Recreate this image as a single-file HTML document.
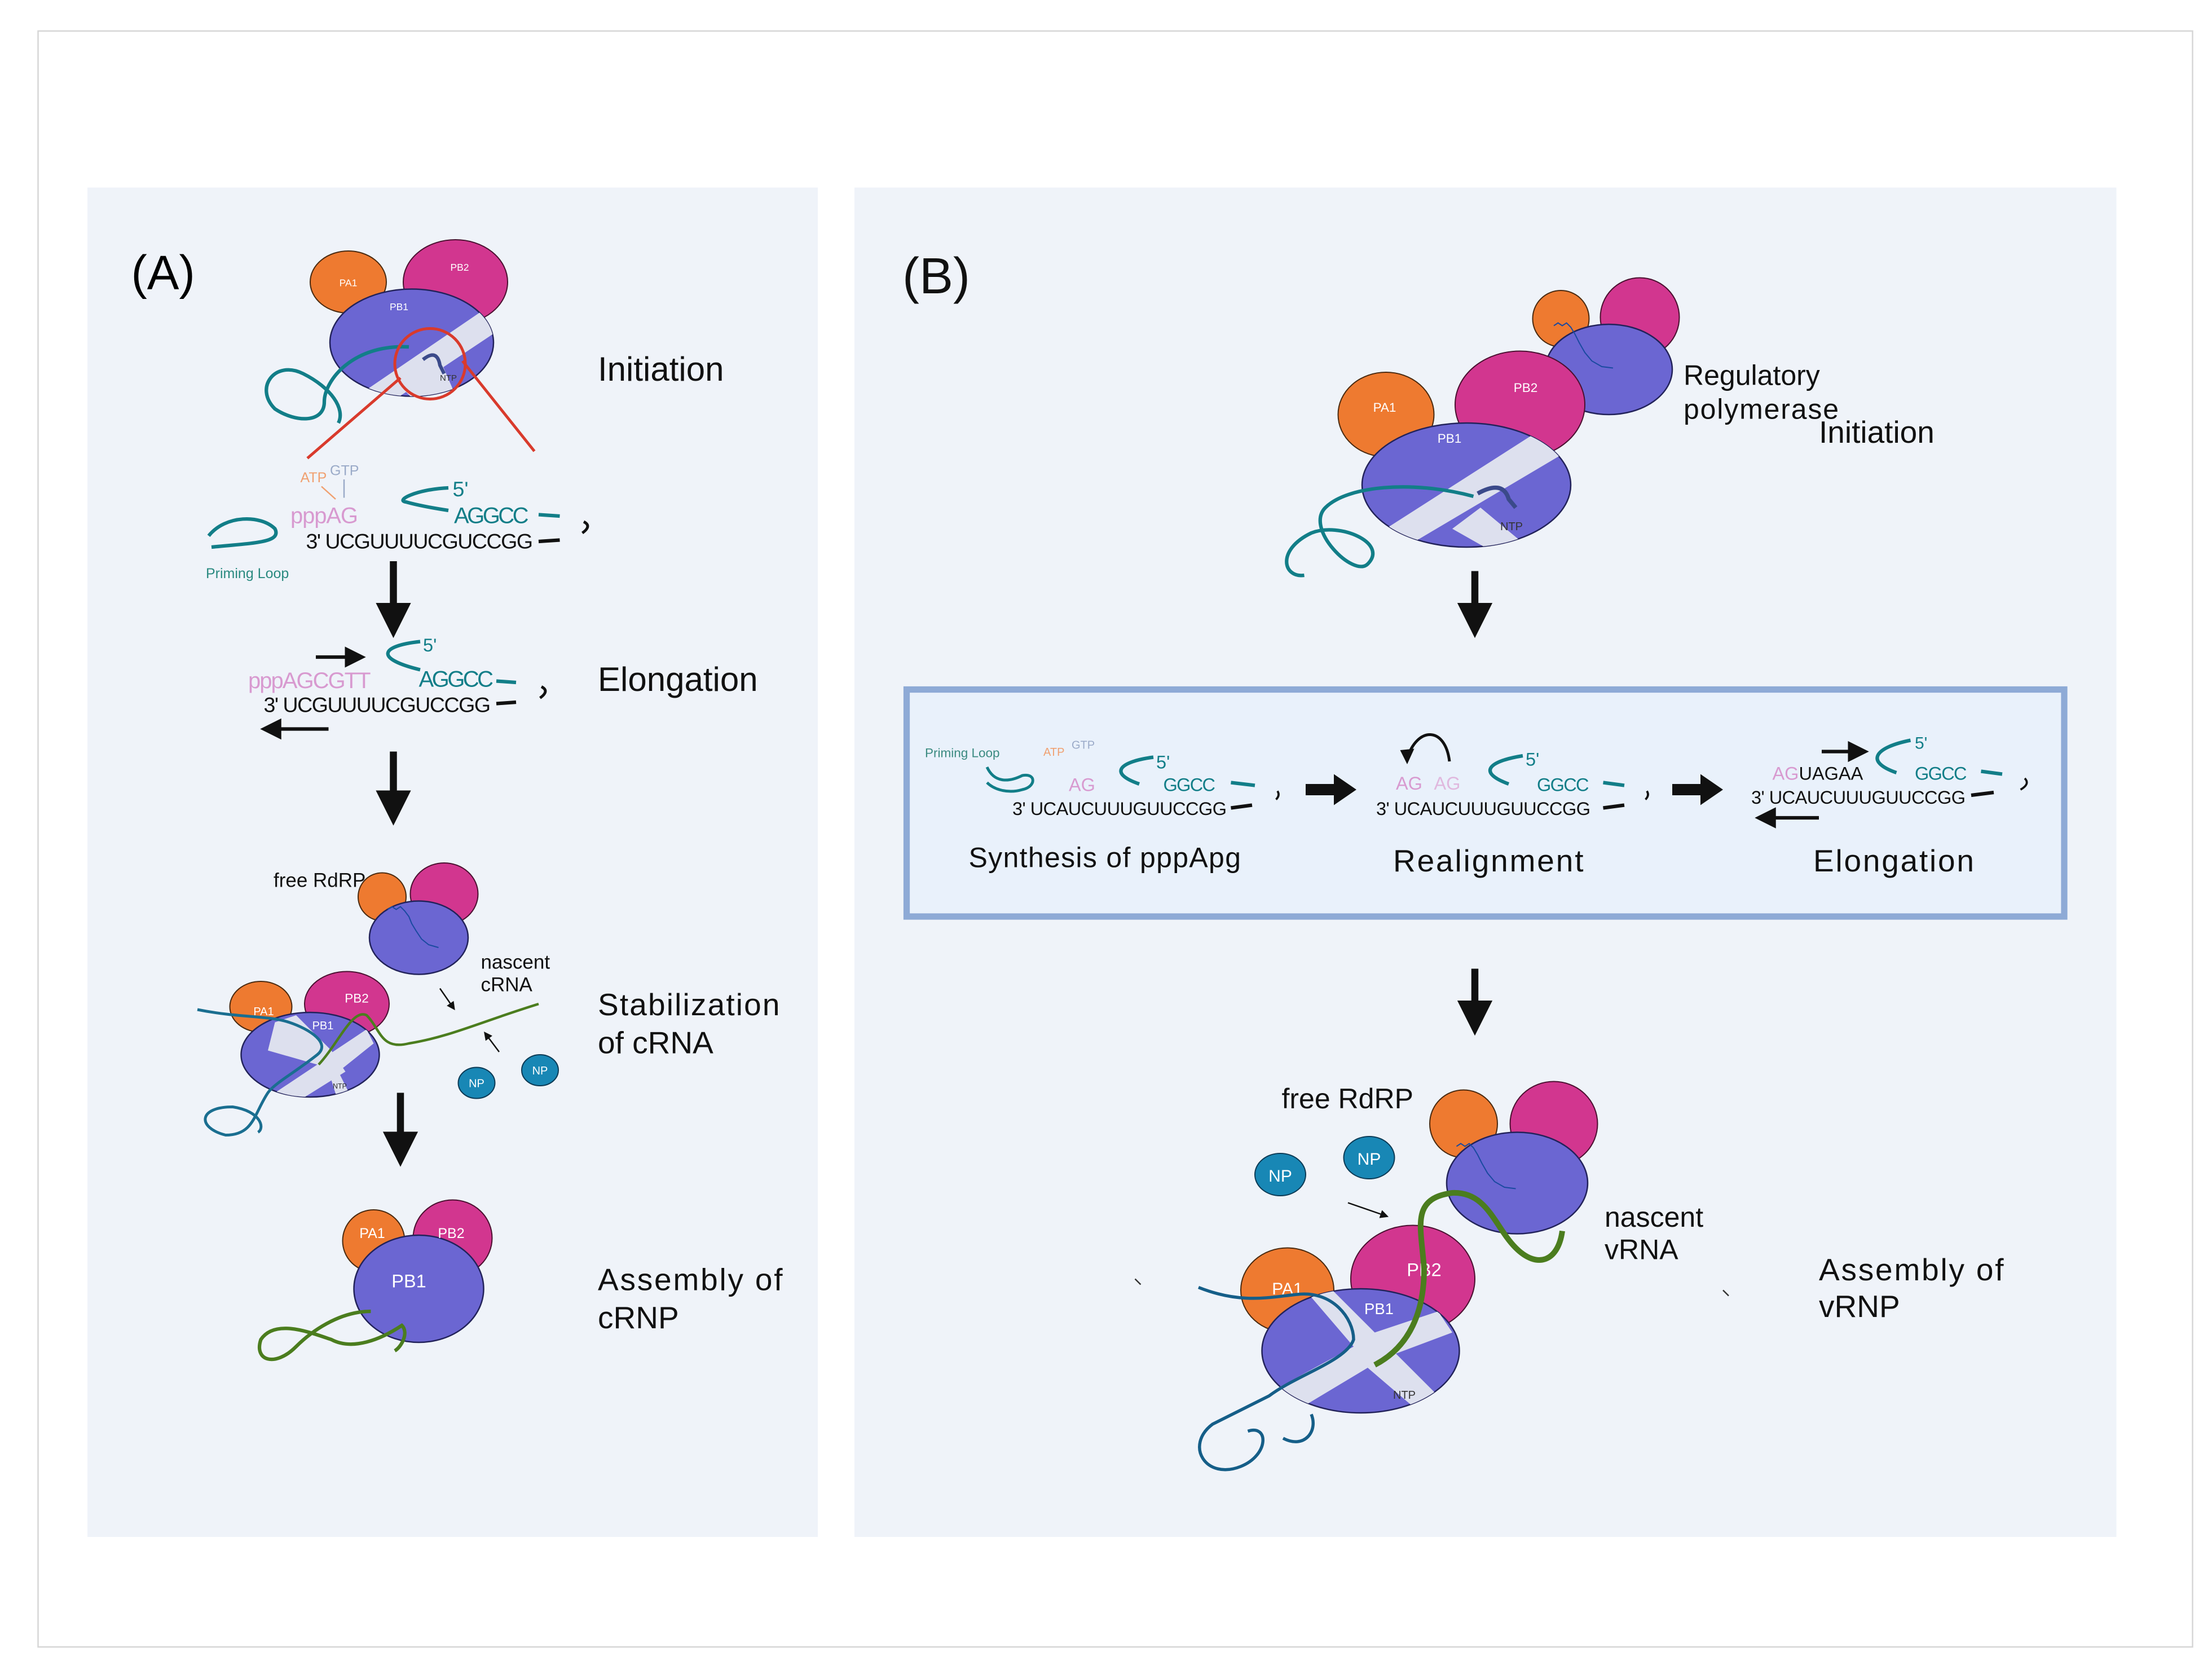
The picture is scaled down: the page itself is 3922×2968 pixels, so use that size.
<!DOCTYPE html>
<html><head><meta charset="utf-8"><style>
html,body{margin:0;padding:0;background:#fff;width:3922px;height:2968px;overflow:hidden}
svg{display:block}
text{font-family:"Liberation Sans",sans-serif}
</style></head><body>
<svg width="3922" height="2968" viewBox="0 0 3922 2968" xmlns="http://www.w3.org/2000/svg">
<defs>
<marker id="ah" viewBox="0 0 10 10" refX="5" refY="5" markerWidth="5" markerHeight="5" orient="auto"><path d="M0,0L10,5L0,10z" fill="#111"/></marker>
<marker id="ahs" viewBox="0 0 10 10" refX="5" refY="5" markerWidth="6" markerHeight="6" orient="auto"><path d="M0,0L10,5L0,10z" fill="#111"/></marker>
<clipPath id="c1"><ellipse cx="292" cy="243" rx="58" ry="38"/></clipPath>
<clipPath id="c2"><ellipse cx="1040" cy="344" rx="74" ry="44"/></clipPath>
<clipPath id="c3"><ellipse cx="220" cy="748" rx="49" ry="30"/></clipPath>
<clipPath id="c4"><ellipse cx="965" cy="958" rx="70" ry="44"/></clipPath>
</defs>
<g transform="scale(2.5)">
<rect x="0" y="0" width="1570" height="1188" fill="#fff"/>
<rect x="27" y="22" width="1528" height="1146" fill="#fff" stroke="#d6d6d6" stroke-width="1"/>
<rect x="62" y="133" width="518" height="957" fill="#eff3f9"/>
<rect x="606" y="133" width="895" height="957" fill="#eff3f9"/>

<!-- Panel A -->
<text x="93" y="205" font-size="34">(A)</text>
<ellipse cx="247" cy="200" rx="27" ry="22" fill="#ee7a30" stroke="#4a2a10" stroke-width="0.8"/>
<ellipse cx="323" cy="200" rx="37" ry="30" fill="#d2368f" stroke="#4a1030" stroke-width="0.8"/>
<ellipse cx="292" cy="243" rx="58" ry="38" fill="#6b66d2" stroke="#22225a" stroke-width="1"/>
<g clip-path="url(#c1)"><path d="M240,290 L350,215 L360,230 L255,300z" fill="#dde0ee"/><path d="M280,270 L310,250 L325,285 L300,290z" fill="#dde0ee"/></g>
<text x="247" y="203" font-size="7" fill="#fff" text-anchor="middle">PA1</text>
<text x="326" y="192" font-size="7" fill="#fff" text-anchor="middle">PB2</text>
<text x="283" y="220" font-size="7" fill="#fff" text-anchor="middle">PB1</text>
<text x="312" y="270" font-size="6" fill="#333">NTP</text>
<path d="M300,255 q10,-8 12,4 l3,6" fill="none" stroke="#3b4a8a" stroke-width="2.5"/>
<path d="M290,246 C250,244 230,270 230,285 C230,300 210,300 195,290 C180,275 195,255 215,265 C235,275 245,290 240,300" fill="none" stroke="#127e88" stroke-width="2.5"/>
<circle cx="305" cy="258" r="25" fill="none" stroke="#d93a2c" stroke-width="2"/>
<line x1="284" y1="268" x2="218" y2="325" stroke="#d93a2c" stroke-width="2"/>
<line x1="328" y1="256" x2="379" y2="320" stroke="#d93a2c" stroke-width="2"/>
<text x="213" y="342" font-size="10" fill="#f0a070">ATP</text>
<text x="234" y="337" font-size="10" fill="#9aaac8">GTP</text>
<line x1="228" y1="345" x2="238" y2="354" stroke="#f0a070" stroke-width="1"/>
<line x1="244" y1="340" x2="244" y2="353" stroke="#9aaac8" stroke-width="1"/>
<text x="206" y="371" font-size="16" fill="#d89ad0" textLength="48">pppAG</text>
<path d="M318,346 C295,347 280,355 288,356 C295,358 305,360 318,362" fill="none" stroke="#127e88" stroke-width="2.5"/>
<text x="321" y="352" font-size="15" fill="#127e88">5'</text>
<text x="322" y="371" font-size="16" fill="#127e88" textLength="53">AGGCC</text>
<line x1="382" y1="365" x2="397" y2="366" stroke="#127e88" stroke-width="2.5"/>
<text x="217" y="389" font-size="15" fill="#111" textLength="161">3' UCGUUUUCGUCCGG</text>
<line x1="382" y1="384" x2="397" y2="383" stroke="#111" stroke-width="2.5"/>
<path d="M414,370 q6,3 -1,8" fill="none" stroke="#111" stroke-width="2"/>
<path d="M148,380 C160,365 185,365 195,375 C200,385 180,385 150,388" fill="none" stroke="#127e88" stroke-width="2.5"/>
<text x="146" y="410" font-size="10" fill="#2a8a80">Priming Loop</text>
<line x1="279" y1="398" x2="279" y2="440" stroke="#111" stroke-width="5" marker-end="url(#ah)"/>
<text x="176" y="488" font-size="16" fill="#d89ad0" textLength="87">pppAGCGTT</text>
<line x1="224" y1="466" x2="252" y2="466" stroke="#111" stroke-width="2.5" marker-end="url(#ahs)"/>
<path d="M298,455 C270,458 265,467 298,475" fill="none" stroke="#127e88" stroke-width="2.5"/>
<text x="300" y="462" font-size="13" fill="#127e88">5'</text>
<text x="297" y="487" font-size="16" fill="#127e88" textLength="53">AGGCC</text>
<line x1="352" y1="483" x2="366" y2="484" stroke="#127e88" stroke-width="2.5"/>
<text x="187" y="505" font-size="15" fill="#111" textLength="161">3' UCGUUUUCGUCCGG</text>
<line x1="352" y1="499" x2="366" y2="498" stroke="#111" stroke-width="2.5"/>
<path d="M384,487 q6,3 -1,8" fill="none" stroke="#111" stroke-width="2"/>
<line x1="233" y1="517" x2="192" y2="517" stroke="#111" stroke-width="2.5" marker-end="url(#ahs)"/>
<text x="424" y="270" font-size="24" fill="#111">Initiation</text>
<text x="424" y="490" font-size="24" fill="#111">Elongation</text>
<line x1="279" y1="533" x2="279" y2="573" stroke="#111" stroke-width="5" marker-end="url(#ah)"/>

<text x="194" y="629" font-size="14" fill="#111">free RdRP</text>
<circle cx="271" cy="636" r="17" fill="#ee7a30" stroke="#4a2a10" stroke-width="0.8"/>
<ellipse cx="315" cy="634" rx="24" ry="22" fill="#d2368f" stroke="#4a1030" stroke-width="0.8"/>
<ellipse cx="297" cy="665" rx="35" ry="26" fill="#6b66d2" stroke="#22225a" stroke-width="1"/>
<path d="M275,645 l3,-2 3,2 3,-2 3,3 3,4 2,5 3,5 4,6 5,4 7,2" fill="none" stroke="#1a4aa0" stroke-width="0.8"/>
<text x="341" y="687" font-size="14" fill="#111">nascent</text>
<text x="341" y="703" font-size="14" fill="#111">cRNA</text>
<ellipse cx="185" cy="714" rx="22" ry="18" fill="#ee7a30" stroke="#4a2a10" stroke-width="0.8"/>
<ellipse cx="246" cy="712" rx="30" ry="23" fill="#d2368f" stroke="#4a1030" stroke-width="0.8"/>
<ellipse cx="220" cy="748" rx="49" ry="30" fill="#6b66d2" stroke="#22225a" stroke-width="1"/>
<g clip-path="url(#c3)"><path d="M195,725 L210,720 L235,745 L245,760 L205,785 L195,775 L225,755 L190,745z" fill="#dde0ee"/><path d="M230,750 L260,730 L265,740 L240,760 L250,780 L240,782z" fill="#dde0ee"/></g>
<text x="187" y="720" font-size="8" fill="#fff" text-anchor="middle">PA1</text>
<text x="253" y="711" font-size="9" fill="#fff" text-anchor="middle">PB2</text>
<text x="229" y="730" font-size="8" fill="#fff" text-anchor="middle">PB1</text>
<text x="236" y="772" font-size="5" fill="#333">NTP</text>
<path d="M140,716 C170,722 190,720 205,725 C220,730 235,740 225,748 C210,760 195,768 190,775 C180,790 180,805 160,805 C140,800 140,785 165,785 C185,788 188,800 183,803" fill="none" stroke="#1a6e90" stroke-width="2"/>
<path d="M226,755 C240,740 250,715 260,720 C270,730 270,745 290,740 C320,735 340,725 382,712" fill="none" stroke="#4b7d1e" stroke-width="1.8"/>
<line x1="312" y1="701" x2="321" y2="714" stroke="#111" stroke-width="1" marker-end="url(#ahs)"/>
<line x1="354" y1="746" x2="345" y2="734" stroke="#111" stroke-width="1" marker-end="url(#ahs)"/>
<ellipse cx="338" cy="768" rx="13" ry="11" fill="#1887b5" stroke="#0c3a55" stroke-width="0.8"/>
<text x="338" y="771" font-size="8" fill="#fff" text-anchor="middle">NP</text>
<ellipse cx="383" cy="759" rx="13" ry="11" fill="#1887b5" stroke="#0c3a55" stroke-width="0.8"/>
<text x="383" y="762" font-size="8" fill="#fff" text-anchor="middle">NP</text>
<text x="424" y="720" font-size="22" fill="#111" textLength="129">Stabilization</text>
<text x="424" y="747" font-size="22" fill="#111">of cRNA</text>
<line x1="284" y1="775" x2="284" y2="815" stroke="#111" stroke-width="5" marker-end="url(#ah)"/>
<circle cx="265" cy="880" r="22" fill="#ee7a30" stroke="#4a2a10" stroke-width="0.8"/>
<ellipse cx="321" cy="878" rx="28" ry="27" fill="#d2368f" stroke="#4a1030" stroke-width="0.8"/>
<ellipse cx="297" cy="914" rx="46" ry="38" fill="#6b66d2" stroke="#22225a" stroke-width="1"/>
<text x="264" y="878" font-size="10" fill="#fff" text-anchor="middle">PA1</text>
<text x="320" y="878" font-size="10" fill="#fff" text-anchor="middle">PB2</text>
<text x="290" y="913" font-size="13" fill="#fff" text-anchor="middle">PB1</text>
<path d="M263,930 C240,930 220,945 210,955 C195,970 180,965 185,950 C195,935 220,945 235,950 C250,958 270,950 285,940 C290,945 285,955 280,958" fill="none" stroke="#4b7d1e" stroke-width="2.5"/>
<text x="424" y="915" font-size="22" fill="#111" textLength="131">Assembly of</text>
<text x="424" y="942" font-size="22" fill="#111">cRNP</text>

<!-- Panel B -->
<text x="640" y="208" font-size="36" fill="#111">(B)</text>
<circle cx="1107" cy="226" r="20" fill="#ee7a30" stroke="#4a2a10" stroke-width="0.8"/>
<circle cx="1163" cy="225" r="28" fill="#d2368f" stroke="#4a1030" stroke-width="0.8"/>
<ellipse cx="1141" cy="262" rx="45" ry="32" fill="#6b66d2" stroke="#22225a" stroke-width="1"/>
<path d="M1102,231 l3,-2 3,2 3,-2 3,3 3,5 3,6 4,7 5,6 7,4 8,1" fill="none" stroke="#1a4aa0" stroke-width="0.8"/>
<text x="1194" y="273" font-size="20" fill="#111">Regulatory</text>
<text x="1194" y="297" font-size="20" fill="#111" textLength="110">polymerase</text>
<text x="1290" y="314" font-size="22" fill="#111">Initiation</text>
<ellipse cx="983" cy="294" rx="34" ry="30" fill="#ee7a30" stroke="#4a2a10" stroke-width="0.8"/>
<ellipse cx="1078" cy="287" rx="46" ry="38" fill="#d2368f" stroke="#4a1030" stroke-width="0.8"/>
<ellipse cx="1040" cy="344" rx="74" ry="44" fill="#6b66d2" stroke="#22225a" stroke-width="1"/>
<g clip-path="url(#c2)"><path d="M975,380 L1100,300 L1115,318 L990,392z" fill="#dde0ee"/><path d="M1030,375 L1050,360 L1080,385 L1060,392z" fill="#dde0ee"/></g>
<text x="982" y="292" font-size="9" fill="#fff" text-anchor="middle">PA1</text>
<text x="1082" y="278" font-size="9" fill="#fff" text-anchor="middle">PB2</text>
<text x="1028" y="314" font-size="9" fill="#fff" text-anchor="middle">PB1</text>
<text x="1064" y="376" font-size="8" fill="#333">NTP</text>
<path d="M1048,350 q18,-10 22,4 l5,6" fill="none" stroke="#3b4a8a" stroke-width="3"/>
<path d="M1045,352 C1000,340 955,345 940,360 C925,375 960,410 970,400 C985,385 950,370 930,378 C905,390 910,410 925,408" fill="none" stroke="#127e88" stroke-width="2.5"/>
<line x1="1046" y1="405" x2="1046" y2="440" stroke="#111" stroke-width="5" marker-end="url(#ah)"/>

<rect x="643" y="489" width="821" height="161" fill="#e9f1fb" stroke="#8eaad6" stroke-width="4.5"/>
<text x="656" y="537" font-size="9" fill="#3a8a80">Priming Loop</text>
<text x="740" y="536" font-size="8" fill="#f0a070">ATP</text>
<text x="760" y="531" font-size="8" fill="#9aaac8">GTP</text>
<path d="M700,544 C705,555 715,555 725,550 C735,548 735,558 725,560 C715,563 705,560 700,555" fill="none" stroke="#127e88" stroke-width="2"/>
<text x="758" y="561" font-size="13" fill="#d89ad0">AG</text>
<path d="M818,537 C795,540 785,548 808,556" fill="none" stroke="#127e88" stroke-width="2.5"/>
<text x="820" y="545" font-size="13" fill="#127e88">5'</text>
<text x="825" y="561" font-size="13" fill="#127e88" textLength="37">GGCC</text>
<line x1="873" y1="555" x2="890" y2="557" stroke="#127e88" stroke-width="2.5"/>
<text x="718" y="578" font-size="13" fill="#111" textLength="152">3' UCAUCUUUGUUCCGG</text>
<line x1="873" y1="573" x2="888" y2="571" stroke="#111" stroke-width="2.5"/>
<path d="M906,561 q2,3 -1,6" fill="none" stroke="#111" stroke-width="1.5"/>
<text x="687" y="615" font-size="20" fill="#111" textLength="193">Synthesis of pppApg</text>
<path d="M926,556 L946,556 L946,549 L962,560 L946,571 L946,564 L926,564z" fill="#111"/>
<text x="990" y="560" font-size="13" fill="#d89ad0">AG</text>
<text x="1017" y="560" font-size="13" fill="#e0b8de">AG</text>
<path d="M1028,540 C1025,515 1005,515 998,538" fill="none" stroke="#111" stroke-width="2"/>
<path d="M993,532 L998,542 L1003,531z" fill="#111"/>
<path d="M1080,536 C1055,540 1048,548 1070,556" fill="none" stroke="#127e88" stroke-width="2.5"/>
<text x="1082" y="543" font-size="13" fill="#127e88">5'</text>
<text x="1090" y="561" font-size="13" fill="#127e88" textLength="37">GGCC</text>
<line x1="1137" y1="555" x2="1152" y2="557" stroke="#127e88" stroke-width="2.5"/>
<text x="976" y="578" font-size="13" fill="#111" textLength="152">3' UCAUCUUUGUUCCGG</text>
<line x1="1137" y1="573" x2="1152" y2="571" stroke="#111" stroke-width="2.5"/>
<path d="M1168,561 q2,3 -1,6" fill="none" stroke="#111" stroke-width="1.5"/>
<text x="988" y="618" font-size="22" fill="#111" textLength="135">Realignment</text>
<path d="M1186,556 L1206,556 L1206,549 L1222,560 L1206,571 L1206,564 L1186,564z" fill="#111"/>
<text x="1257" y="553" font-size="13" fill="#d89ad0">AG<tspan fill="#111">UAGAA</tspan></text>
<line x1="1292" y1="533" x2="1318" y2="533" stroke="#111" stroke-width="2.5" marker-end="url(#ahs)"/>
<path d="M1355,525 C1330,530 1322,540 1345,548" fill="none" stroke="#127e88" stroke-width="2.5"/>
<text x="1358" y="531" font-size="12" fill="#127e88">5'</text>
<text x="1358" y="553" font-size="13" fill="#127e88" textLength="37">GGCC</text>
<line x1="1405" y1="547" x2="1420" y2="549" stroke="#127e88" stroke-width="2.5"/>
<text x="1242" y="570" font-size="13" fill="#111" textLength="152">3' UCAUCUUUGUUCCGG</text>
<line x1="1398" y1="564" x2="1414" y2="562" stroke="#111" stroke-width="2.5"/>
<path d="M1436,552 q4,4 -3,8" fill="none" stroke="#111" stroke-width="1.5"/>
<line x1="1290" y1="580" x2="1252" y2="580" stroke="#111" stroke-width="2.5" marker-end="url(#ahs)"/>
<text x="1286" y="618" font-size="22" fill="#111" textLength="114">Elongation</text>
<line x1="1046" y1="687" x2="1046" y2="722" stroke="#111" stroke-width="5" marker-end="url(#ah)"/>

<text x="909" y="786" font-size="20" fill="#111">free RdRP</text>
<ellipse cx="908" cy="833" rx="18" ry="15" fill="#1887b5" stroke="#0c3a55" stroke-width="0.8"/>
<text x="908" y="838" font-size="12" fill="#fff" text-anchor="middle">NP</text>
<ellipse cx="971" cy="821" rx="18" ry="15" fill="#1887b5" stroke="#0c3a55" stroke-width="0.8"/>
<text x="971" y="826" font-size="12" fill="#fff" text-anchor="middle">NP</text>
<line x1="956" y1="853" x2="982" y2="862" stroke="#111" stroke-width="1" marker-end="url(#ahs)"/>
<circle cx="1038" cy="797" r="24" fill="#ee7a30" stroke="#4a2a10" stroke-width="0.8"/>
<ellipse cx="1102" cy="797" rx="31" ry="30" fill="#d2368f" stroke="#4a1030" stroke-width="0.8"/>
<ellipse cx="1076" cy="839" rx="50" ry="36" fill="#6b66d2" stroke="#22225a" stroke-width="1"/>
<path d="M1033,813 l3,-2 3,2 3,-2 3,3 3,5 3,6 4,7 5,6 7,4 8,1" fill="none" stroke="#1a4aa0" stroke-width="0.8"/>
<text x="1138" y="870" font-size="20" fill="#111">nascent</text>
<text x="1138" y="893" font-size="20" fill="#111">vRNA</text>
<text x="1290" y="908" font-size="22" fill="#111" textLength="131">Assembly of</text>
<text x="1290" y="934" font-size="22" fill="#111">vRNP</text>
<ellipse cx="913" cy="915" rx="33" ry="30" fill="#ee7a30" stroke="#4a2a10" stroke-width="0.8"/>
<ellipse cx="1002" cy="907" rx="44" ry="38" fill="#d2368f" stroke="#4a1030" stroke-width="0.8"/>
<ellipse cx="965" cy="958" rx="70" ry="44" fill="#6b66d2" stroke="#22225a" stroke-width="1"/>
<g clip-path="url(#c4)"><path d="M930,920 L945,915 L975,945 L1020,930 L1030,945 L990,960 L1020,990 L1005,1000 L970,970 L920,1000 L905,985 L960,955z" fill="#dde0ee"/></g>
<text x="913" y="918" font-size="12" fill="#fff" text-anchor="middle">PA1</text>
<text x="1010" y="905" font-size="13" fill="#fff" text-anchor="middle">PB2</text>
<text x="978" y="932" font-size="11" fill="#fff" text-anchor="middle">PB1</text>
<text x="988" y="992" font-size="8" fill="#333">NTP</text>
<path d="M850,913 C880,925 900,920 920,918 C945,915 960,935 960,950 C955,965 920,975 900,990 C880,1000 870,1005 860,1010 C840,1025 855,1050 880,1040 C900,1032 900,1010 885,1015 M930,1003 C935,1015 925,1028 910,1020" fill="none" stroke="#155e88" stroke-width="2.2"/>
<path d="M975,968 C1000,955 1010,930 1010,900 C1008,870 1000,850 1030,846 C1055,845 1060,870 1075,885 C1090,900 1105,895 1108,873" fill="none" stroke="#4b7d1e" stroke-width="4"/>
<path d="M805,907 l4,4" stroke="#333" stroke-width="1"/>
<path d="M1222,915 l4,4" stroke="#333" stroke-width="1"/>
</g>
</svg>
</body></html>
